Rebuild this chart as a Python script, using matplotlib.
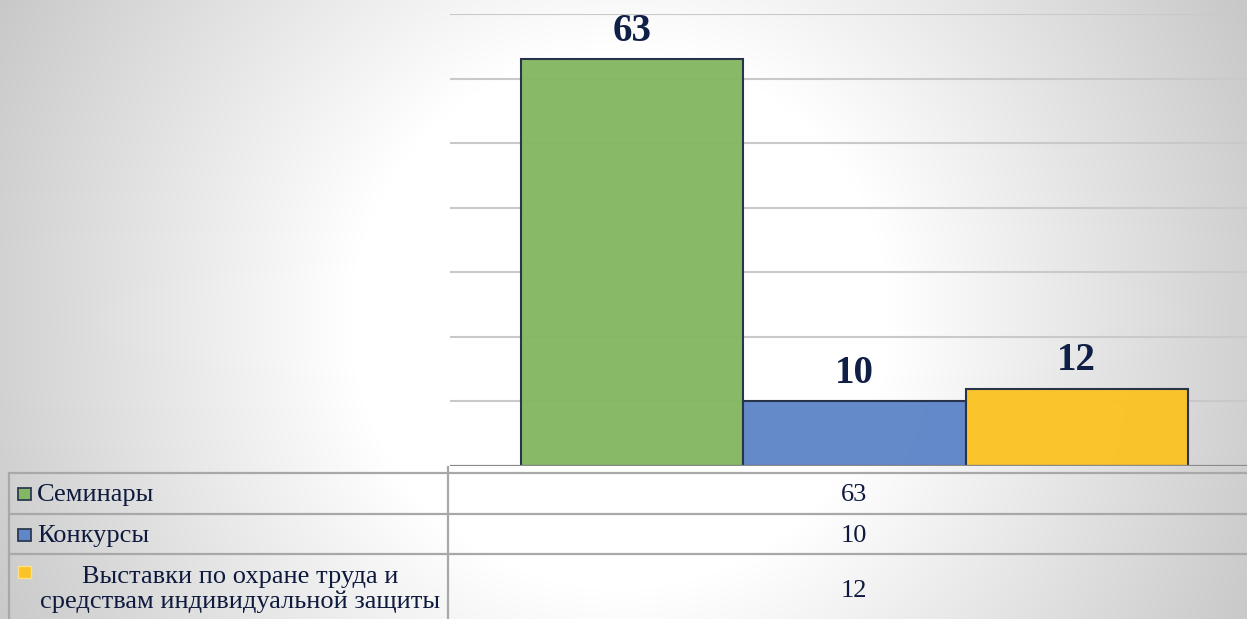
import numpy as np
import matplotlib
matplotlib.use("Agg")
import matplotlib.pyplot as plt
from matplotlib.patches import Rectangle

# ---- data ----
series_names = ["Семинары", "Конкурсы", "Выставки по охране труда и\nсредствам индивидуальной защиты"]
series_values = [63, 10, 12]
series_colors = ["#84b762", "#5f86c9", "#fbc325"]
grid_values = [10, 20, 30, 40, 50, 60, 70]

W, H = 1247, 619
fig = plt.figure(figsize=(W / 100, H / 100), dpi=100)

# ---- background radial gradient ----
bg = fig.add_axes([0, 0, 1, 1], zorder=0)
yy, xx = np.mgrid[0:H, 0:W]
r = np.hypot(xx - 620, (yy - 320) * 1.0)
t = np.clip((r - 270) / 430, 0, 1)
g = 255 - t * 55
img = np.dstack([g, g, g]) / 255.0
bg.imshow(img, extent=[0, W, H, 0], aspect="auto", interpolation="bilinear")
bg.set_xlim(0, W)
bg.set_ylim(H, 0)
bg.axis("off")

# ---- bar axes ----
left_px, right_px, top_px, base_px = 450, 1259, 14, 466
ax = fig.add_axes([left_px / W, (H - base_px) / H, (right_px - left_px) / W, (base_px - top_px) / H], zorder=2)
ax.set_facecolor("none")
ax.set_xlim(-1.822, 1.822)
ax.set_ylim(0, 70)
for gv in grid_values:
    ax.axhline(gv, color="#c9c9c9", lw=1.5, zorder=1)
ax.axhline(0, color="#8a8a8a", lw=1.6, zorder=4)

offsets = np.arange(len(series_values)) - (len(series_values) - 1) / 2
for off, v, c in zip(offsets, series_values, series_colors):
    ax.bar(off, v, width=1.0, facecolor=matplotlib.colors.to_rgba(c, 0.97),
           edgecolor="#27344a", linewidth=1.5, zorder=3)
    ax.annotate(str(v), (off, v), xytext=(0, 20), textcoords="offset points",
                ha="center", va="center", fontsize=28, fontweight="bold",
                family="Liberation Serif", color="#0f1f45", zorder=5)
ax.axis("off")

# ---- data table (figure pixel coordinates) ----
ov = fig.add_axes([0, 0, 1, 1], zorder=3)
ov.set_xlim(0, W)
ov.set_ylim(H, 0)
ov.axis("off")
ov.set_facecolor("none")
lc = "#a8a8a8"
row_lines = [473, 514, 554]
for yl in row_lines:
    ov.plot([9, W], [yl, yl], color=lc, lw=1.6, solid_capstyle="butt")
ov.plot([9, 9], [473, H], color=lc, lw=1.6)
ov.plot([448, 448], [467, H], color=lc, lw=1.6)

row_centers = [494, 535, 590]
txt_color = "#0e1a3d"
fs = 19
for i, (name, v, c) in enumerate(zip(series_names, series_values, series_colors)):
    yc = row_centers[i]
    if "\n" in name:
        ov.add_patch(Rectangle((18, 566), 13, 12, facecolor=c, edgecolor="#fde08a", lw=1))
        for k, line in enumerate(name.split("\n")):
            ov.text(240, 577 + 25 * k, line, ha="center", va="center", fontsize=fs,
                    family="Liberation Serif", color=txt_color)
    else:
        ov.add_patch(Rectangle((18, yc - 6), 13, 12, facecolor=c, edgecolor="#2b3a52", lw=1.3))
        ov.text(37, yc + 1, name, ha="left", va="center", fontsize=fs,
                family="Liberation Serif", color=txt_color)
    ov.text(854, yc + 1, str(v), ha="center", va="center", fontsize=fs,
            family="Liberation Serif", color=txt_color)

fig.savefig("out.png", dpi=100)
